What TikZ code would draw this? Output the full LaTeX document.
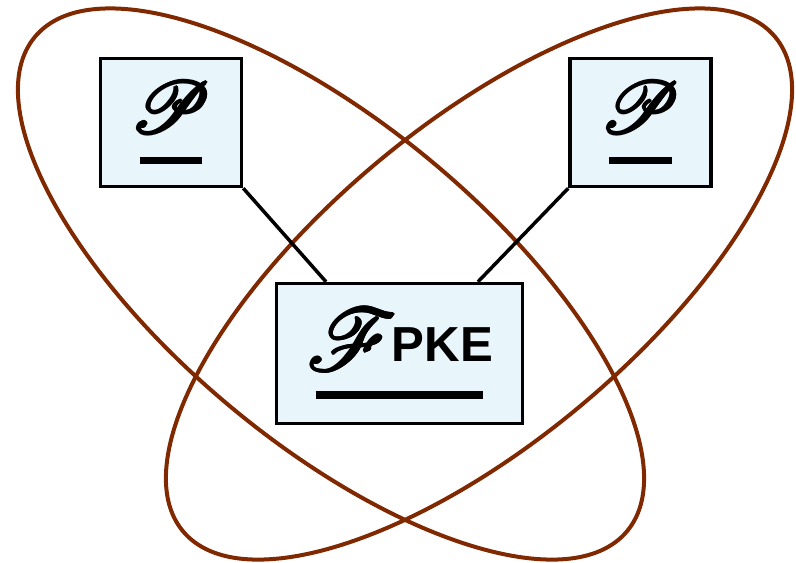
\documentclass[tikz,border=0pt]{standalone}
\usepackage{fontspec}
\usepackage{mathrsfs}
\newfontfamily\pkefont{Liberation Sans}
\usetikzlibrary{positioning, calc}
\definecolor{ringbrown}{RGB}{128,40,0}
\definecolor{boxblue}{RGB}{232,246,252}
% heavy script letter: the glyph laid over itself a few times
\newcommand\heavyglyph[1]{\mbox{%
  \rlap{#1}\rlap{\kern0.7pt#1}%
  \rlap{\kern0.35pt\raise0.35pt\hbox{#1}}\rlap{\kern0.35pt\lower0.35pt\hbox{#1}}%
  \rlap{\kern0.2pt\raise0.2pt\hbox{#1}}\rlap{\kern0.5pt\lower0.2pt\hbox{#1}}%
  \kern0.7pt#1}}
\tikzset{
  % party and functionality boxes
  partybox/.style = { draw, line width=0.035cm, fill=boxblue, minimum width=1.41cm,
                      minimum height=1.28cm, align=center, inner sep=0 },
  funcbox/.style  = { draw, line width=0.035cm, fill=boxblue, minimum width=2.46cm,
                      minimum height=1.40cm, align=center, inner sep=0 },
  partylink/.style = { line width=0.035cm },
  ring/.style     = { draw=ringbrown, line width=0.04cm }
}

\begin{document}
\begin{tikzpicture}
  \useasboundingbox (0,0) rectangle (7.96,-5.62);

  \draw[ring] (3.31,-2.84) ellipse[x radius=3.857cm, y radius=1.586cm, rotate=-39.86];
  \draw[ring] (4.79,-2.84) ellipse[x radius=3.857cm, y radius=1.586cm, rotate=39.86];

  \node[partybox] (lparty) at (1.71,-1.225)
    {\fontsize{22}{25}\selectfont\heavyglyph{$\mathscr{P}$}\\[-3pt]\rule{0.63cm}{0.07cm}};
  \node[partybox] (rparty) at (6.405,-1.225)
    {\fontsize{22}{25}\selectfont\heavyglyph{$\mathscr{P}$}\\[-3pt]\rule{0.63cm}{0.07cm}};
  \node[funcbox] (fpke) at (3.995,-3.535)
    {\fontsize{25}{29}\selectfont\heavyglyph{$\mathscr{F}$}\kern-2pt\raisebox{2.5pt}{\pkefont\bfseries\fontsize{14}{16}\selectfont PKE}\\[-4pt]\rule{1.68cm}{0.08cm}};

  \draw[partylink] (lparty.south east) -- ([xshift=-0.735cm]fpke.north);
  \draw[partylink] (rparty.south west) -- ([xshift=0.785cm]fpke.north);

\end{tikzpicture}
\end{document}
